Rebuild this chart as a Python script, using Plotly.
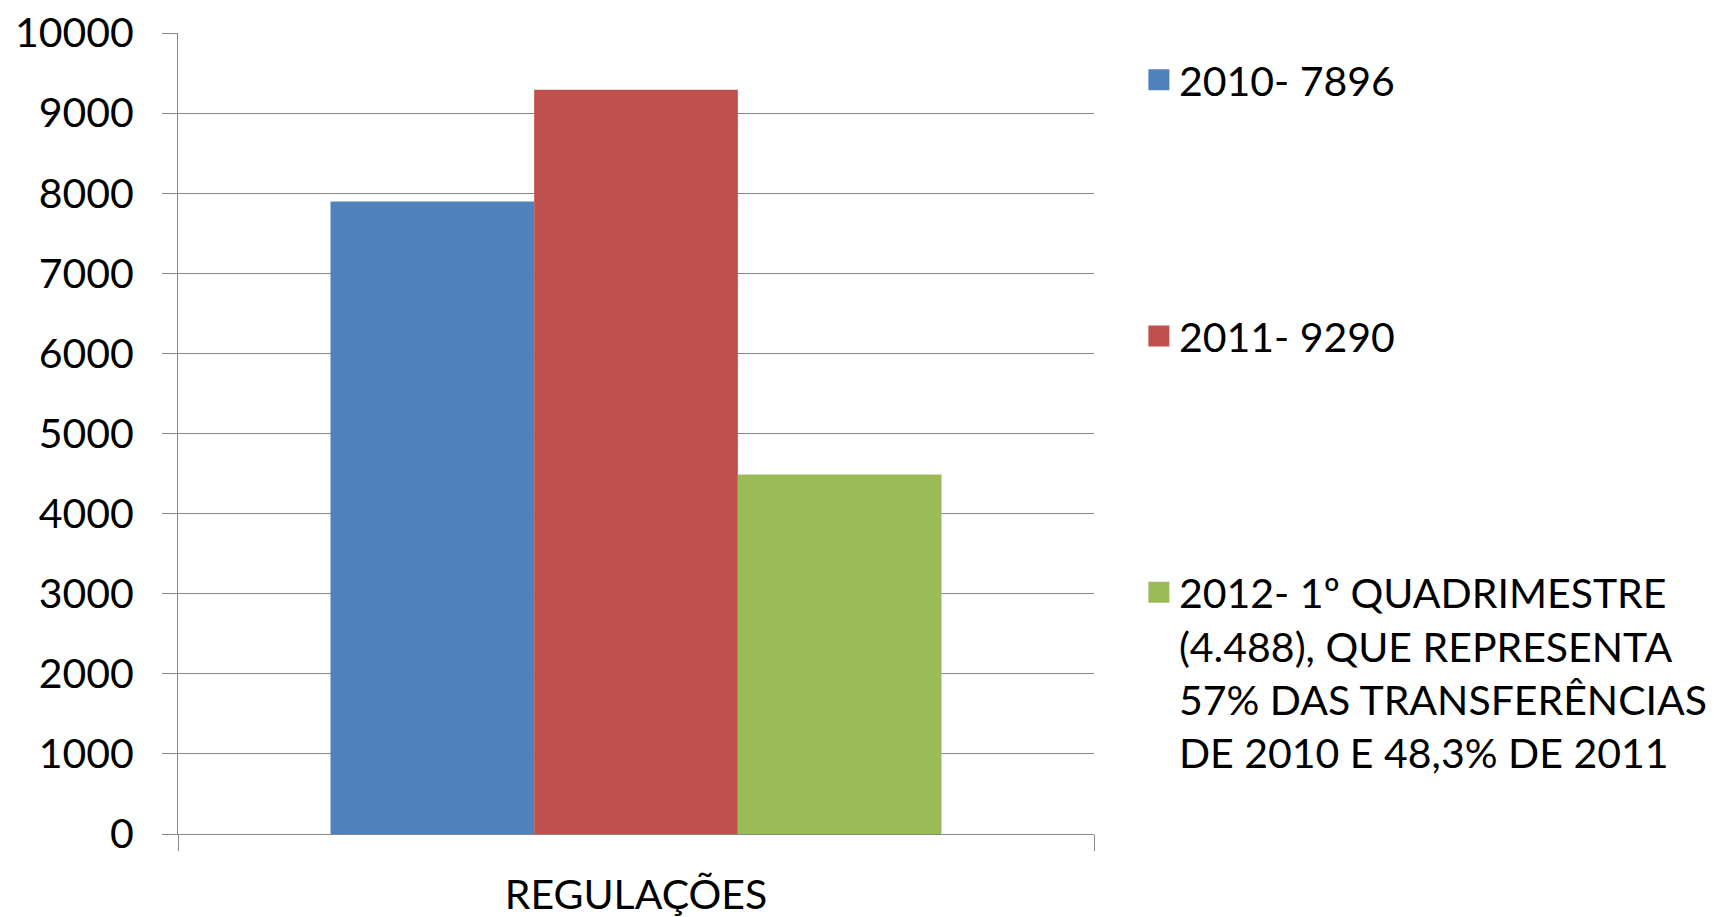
import plotly.graph_objects as go

categories = ["REGULAÇÕES"]
series_names = [
    "2010- 7896",
    "2011- 9290",
    "2012- 1º QUADRIMESTRE<br>(4.488), QUE REPRESENTA<br>57% DAS TRANSFERÊNCIAS<br>DE 2010 E 48,3% DE 2011",
]
values_2010 = [7896]
values_2011 = [9290]
values_2012 = [4488]
series_values = [values_2010, values_2011, values_2012]
colors = ["#4F81BD", "#C0504D", "#9BBB59"]
y_ticks = [0, 1000, 2000, 3000, 4000, 5000, 6000, 7000, 8000, 9000, 10000]
y_tick_labels = [str(v) for v in y_ticks]

FONT = "Lato"
FS = 41
GRID = "#878787"

fig = go.Figure()
for i, (name, vals, col) in enumerate(zip(series_names, series_values, colors)):
    fig.add_trace(go.Bar(
        x=categories, y=vals, name=name,
        marker=dict(color=col, line=dict(width=0)),
        legendgroup=f"g{i}", showlegend=False,
    ))
    # legend entry (larger square swatch)
    fig.add_trace(go.Scatter(
        x=[None], y=[None], name=name, mode="markers",
        marker=dict(symbol="square", size=16, color=col, line=dict(color=col, width=5)),
        legendgroup=f"g{i}", showlegend=True, hoverinfo="skip",
    ))

fig.update_layout(
    width=1714, height=917,
    margin=dict(l=178, r=620, t=33, b=83, autoexpand=False),
    paper_bgcolor="white", plot_bgcolor="white",
    barmode="group", bargap=0.333, bargroupgap=0,
    font=dict(family=FONT, size=FS, color="black"),
    legend=dict(
        x=1.049, xanchor="left", y=0.983, yanchor="top",
        traceorder="grouped", tracegroupgap=200,
        valign="top", font=dict(family=FONT, size=FS, color="black"),
        bgcolor="rgba(0,0,0,0)",
    ),
    showlegend=True,
)
fig.update_yaxes(
    range=[0, 10000], tickvals=y_ticks, ticktext=y_tick_labels,
    showgrid=True, gridcolor=GRID, gridwidth=1,
    showline=True, linecolor=GRID, linewidth=1,
    ticks="outside", ticklen=15, tickcolor=GRID,
    ticklabelstandoff=20, zeroline=False, automargin=False,
    ticklabeloverflow="allow",
    tickfont=dict(family=FONT, size=FS, color="black"),
)
fig.update_xaxes(
    showline=True, linecolor=GRID, linewidth=1,
    ticks="outside", ticklen=16, tickcolor=GRID, tickson="boundaries",
    ticklabelstandoff=25, automargin=False,
    tickfont=dict(family=FONT, size=FS, color="black"),
)

fig.write_html(
    "out.html",
    config={"displayModeBar": False},
    post_script="document.body.style.margin='0px';document.body.style.overflow='hidden';",
)
